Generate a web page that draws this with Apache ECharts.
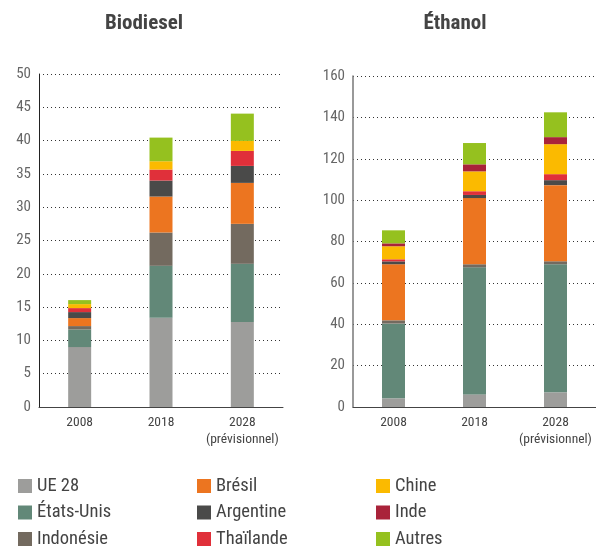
<!DOCTYPE html>
<html>
<head>
<meta charset="utf-8">
<script src="https://cdn.jsdelivr.net/npm/echarts@6/dist/echarts.min.js"></script>
<style>
  html, body { margin: 0; padding: 0; background: #fff; }
  #chart { width: 596px; height: 548px; }
</style>
</head>
<body>
<div id="chart"></div>
<script>
// Production mondiale de biocarburants (milliards de litres)
const years = ['2008', '2018', '2028\n(prévisionnel)'];
const countries = ['UE 28', 'États-Unis', 'Indonésie', 'Brésil', 'Argentine', 'Thaïlande', 'Chine', 'Inde', 'Autres'];
const countryColors = ['#9d9d9b', '#628878', '#736a5f', '#ec7520', '#4a4a49', '#e0303a', '#fbba00', '#a9233a', '#95c11f'];

// Biodiesel
const biodieselUE28 = [9.0, 13.4, 12.75];
const biodieselEtatsUnis = [2.65, 7.8, 8.75];
const biodieselIndonesie = [0.5, 5.0, 6.0];
const biodieselBresil = [1.2, 5.4, 6.15];
const biodieselArgentine = [0.9, 2.4, 2.55];
const biodieselThailande = [0.6, 1.65, 2.25];
const biodieselChine = [0.6, 1.25, 1.5];
const biodieselInde = [0, 0, 0];
const biodieselAutres = [0.6, 3.55, 4.1];

// Éthanol
const ethanolUE28 = [4.2, 6.1, 7.1];
const ethanolEtatsUnis = [36.1, 61.4, 61.9];
const ethanolIndonesie = [1.6, 1.5, 1.45];
const ethanolBresil = [27.1, 32.0, 36.8];
const ethanolArgentine = [1.4, 1.5, 2.4];
const ethanolThailande = [1.0, 1.8, 2.9];
const ethanolChine = [6.3, 9.6, 14.5];
const ethanolInde = [1.4, 3.4, 3.4];
const ethanolAutres = [6.3, 10.3, 12.0];

// Axis ticks
const biodieselAxis = { min: 0, max: 50, interval: 5 };
const ethanolAxis = { min: 0, max: 160, interval: 20 };

const biodieselData = [biodieselUE28, biodieselEtatsUnis, biodieselIndonesie, biodieselBresil,
  biodieselArgentine, biodieselThailande, biodieselChine, biodieselInde, biodieselAutres];
const ethanolData = [ethanolUE28, ethanolEtatsUnis, ethanolIndonesie, ethanolBresil,
  ethanolArgentine, ethanolThailande, ethanolChine, ethanolInde, ethanolAutres];

const FONT = '"Liberation Sans Narrow", "Roboto Condensed", Roboto, "Liberation Sans", sans-serif';

function xAxisFor(gridIndex) {
  return {
    type: 'category',
    gridIndex: gridIndex,
    data: years,
    axisLine: { lineStyle: { color: '#444', width: 1 } },
    axisTick: { inside: true, length: 6, lineStyle: { color: '#444' } },
    axisLabel: { interval: 0, color: '#444', fontSize: 13.5, fontFamily: FONT, margin: 7, lineHeight: 17 }
  };
}

function yAxisFor(gridIndex, range, lineColor, lineWidth) {
  return {
    type: 'value',
    gridIndex: gridIndex,
    min: range.min,
    max: range.max,
    interval: range.interval,
    axisLine: { show: true, lineStyle: { color: lineColor, width: lineWidth } },
    axisTick: { show: false },
    axisLabel: { color: '#666', fontSize: 15, fontFamily: FONT, margin: 8 },
    splitLine: { lineStyle: { color: '#333', width: 1, type: [1, 3] } }
  };
}

function seriesFor(gridIndex, data, stack) {
  return countries.map((name, i) => ({
    name: name,
    type: 'bar',
    stack: stack,
    xAxisIndex: gridIndex,
    yAxisIndex: gridIndex,
    barWidth: 23,
    itemStyle: { color: countryColors[i] },
    data: data[i]
  }));
}

function legendColumn(names, left) {
  return {
    data: names,
    orient: 'vertical',
    left: left,
    top: 476,
    height: 90,
    padding: 0,
    itemWidth: 14,
    itemHeight: 14,
    itemGap: 6.5,
    icon: 'rect',
    selectedMode: false,
    textStyle: { color: '#444', fontSize: 18.5, lineHeight: 20, fontFamily: FONT }
  };
}

const chart = echarts.init(document.getElementById('chart'), null, { renderer: 'canvas' });

chart.setOption({
  animation: false,
  backgroundColor: '#fff',
  color: countryColors,
  graphic: [
    { type: 'text', x: 144, y: 24, style: { text: 'Biodiesel', align: 'center', verticalAlign: 'middle',
      fill: '#444', font: 'bold 21px ' + FONT } },
    { type: 'text', x: 455, y: 24, style: { text: 'Éthanol', align: 'center', verticalAlign: 'middle',
      fill: '#444', font: 'bold 21px ' + FONT } }
  ],
  grid: [
    { left: 39, top: 74, width: 244, bottom: 141 },
    { left: 353, top: 76, width: 243, bottom: 141 }
  ],
  xAxis: [xAxisFor(0), xAxisFor(1)],
  yAxis: [
    yAxisFor(0, biodieselAxis, '#222', 1),
    yAxisFor(1, ethanolAxis, '#777', 1.5)
  ],
  legend: [
    legendColumn([countries[0], countries[1], countries[2]], 18),
    legendColumn([countries[3], countries[4], countries[5]], 197),
    legendColumn([countries[6], countries[7], countries[8]], 376)
  ],
  series: seriesFor(0, biodieselData, 'biodiesel').concat(seriesFor(1, ethanolData, 'ethanol'))
});
</script>
</body>
</html>
